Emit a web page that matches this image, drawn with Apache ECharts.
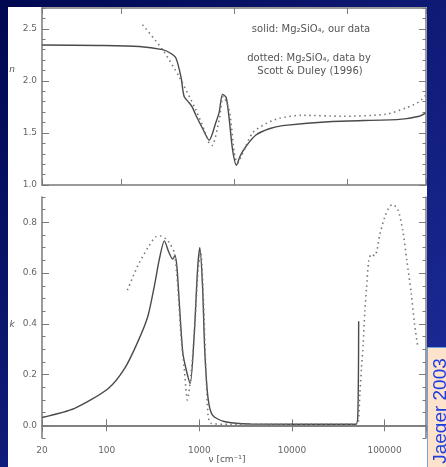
<!DOCTYPE html>
<html>
<head>
<meta charset="utf-8" />
<script src="https://cdn.jsdelivr.net/npm/echarts@6/dist/echarts.min.js"></script>
<style>
  html, body { margin: 0; padding: 0; background: #000a5a; }
  #chart { width: 446px; height: 467px; }
</style>
</head>
<body>
<div id="chart"></div>
<script>
// refractive index n, our data (solid)
var nSolidWave = [20, 64, 145, 233, 270, 306, 339, 362, 401, 426, 460, 523, 603, 691, 740, 791, 853, 908, 971, 1052, 1135, 1275, 1563, 2050, 2690, 7420, 29000, 43600, 49400];
var nSolidVal  = [2.345, 2.34, 2.33, 2.30, 2.27, 2.22, 2.04, 1.85, 1.79, 1.75, 1.67, 1.55, 1.43, 1.60, 1.70, 1.87, 1.84, 1.63, 1.34, 1.19, 1.28, 1.37, 1.48, 1.54, 1.57, 1.61, 1.63, 1.66, 1.69];
// n, Scott & Duley (dotted)
var nDotWave = [155, 233, 327, 460, 545, 603, 640, 740, 802, 908, 1005, 1075, 1189, 1458, 1916, 2510, 4020, 9080, 22100, 33300, 43600, 49400];
var nDotVal  = [2.54, 2.30, 2.04, 1.72, 1.53, 1.40, 1.38, 1.63, 1.85, 1.72, 1.31, 1.21, 1.30, 1.50, 1.59, 1.64, 1.67, 1.66, 1.68, 1.74, 1.80, 1.86];

// absorption index k, our data (solid)
var kSolidWave = [20, 45, 104, 156, 217, 278, 327, 370, 419, 471, 516, 546, 574, 607, 661, 716, 796, 879, 957, 1012, 1082, 1145, 1242, 1386, 1846, 3570, 49000, 51500, 52500];
var kSolidVal  = [0.031, 0.067, 0.145, 0.224, 0.33, 0.43, 0.55, 0.655, 0.727, 0.68, 0.655, 0.67, 0.62, 0.485, 0.29, 0.224, 0.165, 0.354, 0.616, 0.70, 0.55, 0.29, 0.106, 0.04, 0.015, 0.005, 0.004, 0.05, 0.41];
// k, Scott & Duley (dotted)
var kDotWave = [167, 217, 278, 341, 386, 437, 475, 537, 584, 633, 687, 743, 811, 879, 971, 1037, 1109, 1175, 1242, 1327, 2180, 49000, 51900, 54100, 56400, 58700, 61200, 63800, 67500, 72100, 78300, 82800, 88500, 100200, 113400, 123000, 139300, 157500, 173900, 194000, 210500, 228200];
var kDotVal  = [0.533, 0.63, 0.70, 0.744, 0.746, 0.735, 0.72, 0.68, 0.55, 0.354, 0.224, 0.10, 0.197, 0.354, 0.616, 0.68, 0.485, 0.224, 0.04, 0.008, 0.004, 0.004, 0.008, 0.125, 0.23, 0.32, 0.45, 0.54, 0.65, 0.675, 0.668, 0.69, 0.75, 0.82, 0.864, 0.87, 0.85, 0.766, 0.65, 0.52, 0.40, 0.31];

// tick labels
var nTicks = [1.0, 1.5, 2.0, 2.5];
var kTicks = [0.0, 0.2, 0.4, 0.6, 0.8];
var waveLabels = [20, 100, 1000, 10000, 100000];

function pairs(xs, ys) {
  return xs.map(function (x, i) { return [x, ys[i]]; });
}

var frameColor = '#7a7a7a';
var labelStyle = { color: '#666', fontSize: 9, fontFamily: 'DejaVu Sans' };

function xAxis(grid, max, pos, labels) {
  return {
    type: 'log', logBase: 10, gridIndex: grid, min: 20, max: max, position: pos,
    axisLine: { show: true, lineStyle: { color: frameColor, width: 1.5 } },
    axisTick: { show: true, inside: true, length: 6, lineStyle: { color: frameColor } },
    axisLabel: labels ? Object.assign({
      margin: 8,
      showMaxLabel: false,
      formatter: function (v) {
        var r = Math.round(v);
        return waveLabels.indexOf(r) >= 0 ? String(r) : '';
      }
    }, labelStyle) : { show: false },
    splitLine: { show: false }, minorTick: { show: false }
  };
}

function yMajor(grid, min, max, ticks, pos, labels) {
  return {
    type: 'value', gridIndex: grid, min: min, max: max, position: pos,
    axisLine: { show: true, lineStyle: { color: frameColor, width: 1.5 } },
    axisTick: { show: true, inside: true, length: 7, customValues: ticks, lineStyle: { color: frameColor } },
    axisLabel: labels ? Object.assign({
      customValues: ticks, margin: 5,
      formatter: function (v) { return v.toFixed(1); }
    }, labelStyle) : { show: false },
    splitLine: { show: false }
  };
}

function yMinor(grid, min, max, step, pos) {
  return {
    type: 'value', gridIndex: grid, min: min, max: max, interval: step, position: pos,
    axisLine: { show: false },
    axisTick: { show: true, inside: true, length: 3.5, lineStyle: { color: frameColor } },
    axisLabel: { show: false },
    splitLine: { show: false }
  };
}

var chart = echarts.init(document.getElementById('chart'), null, { renderer: 'canvas' });

var smallText = { fill: '#555', font: '10px "DejaVu Sans"', textAlign: 'center', textVerticalAlign: 'middle' };
var solidStyle = { color: '#4a4a4a', width: 1.4 };
var dotStyle = { color: '#777', width: 1.6, type: [1.5, 3.5] };

var option = {
  animation: false,
  grid: [
    { left: 42, right: 20, top: 8, height: 177 },
    { left: 42, right: 20, top: 197, height: 241 }
  ],
  xAxis: [
    xAxis(0, 50000, 'bottom', false),
    xAxis(0, 50000, 'top', false),
    xAxis(1, 280000, 'bottom', true),
    xAxis(1, 280000, 'top', false)
  ],
  yAxis: [
    yMajor(0, 1.0, 2.7, nTicks, 'left', true),
    yMinor(0, 1.0, 2.7, 0.1, 'left'),
    yMajor(0, 1.0, 2.7, nTicks, 'right', false),
    yMinor(0, 1.0, 2.7, 0.1, 'right'),
    yMajor(1, -0.05, 0.9, kTicks, 'left', true),
    yMinor(1, -0.05, 0.9, 0.05, 'left'),
    yMajor(1, -0.05, 0.9, kTicks, 'right', false),
    yMinor(1, -0.05, 0.9, 0.05, 'right')
  ],
  series: [
    { type: 'line', xAxisIndex: 0, yAxisIndex: 0, data: pairs(nSolidWave, nSolidVal), showSymbol: false, smooth: 0.25, lineStyle: solidStyle },
    { type: 'line', xAxisIndex: 0, yAxisIndex: 0, data: pairs(nDotWave, nDotVal), showSymbol: false, smooth: 0.25, lineStyle: dotStyle },
    { type: 'line', xAxisIndex: 2, yAxisIndex: 4, data: pairs(kSolidWave, kSolidVal), showSymbol: false, smooth: 0.25, lineStyle: solidStyle },
    { type: 'line', xAxisIndex: 2, yAxisIndex: 4, data: pairs(kDotWave, kDotVal), showSymbol: false, smooth: 0.25, lineStyle: dotStyle }
  ],
  graphic: [
    {
      type: 'rect', z: -20, shape: { x: 0, y: 0, width: 446, height: 467 },
      style: { fill: new echarts.graphic.LinearGradient(0, 0, 1, 1, [
        { offset: 0, color: '#000850' }, { offset: 1, color: '#1e2e9e' }
      ]) }
    },
    { type: 'rect', z: -19, shape: { x: 8, y: 7, width: 419, height: 460 }, style: { fill: '#fff' } },
    { type: 'text', x: 311, y: 29, style: Object.assign({ text: 'solid: Mg₂SiO₄, our data' }, smallText) },
    { type: 'text', x: 309, y: 58, style: Object.assign({ text: 'dotted: Mg₂SiO₄, data by' }, smallText) },
    { type: 'text', x: 310, y: 71, style: Object.assign({ text: 'Scott & Duley (1996)' }, smallText) },
    { type: 'text', x: 12, y: 70, style: Object.assign({ text: 'n' }, smallText, { font: 'italic 9px "DejaVu Sans"' }) },
    { type: 'text', x: 12, y: 325, style: Object.assign({ text: 'k' }, smallText, { font: 'italic 9px "DejaVu Sans"' }) },
    { type: 'text', x: 227, y: 460, style: Object.assign({ text: 'ν [cm⁻¹]' }, smallText, { font: '9px "DejaVu Sans"' }) },
    {
      type: 'rect', z: 10, shape: { x: 427.5, y: 347.5, width: 30, height: 130 },
      style: { fill: '#fde2cc', stroke: '#6fa2e2', lineWidth: 1 }
    },
    {
      type: 'text', z: 11, x: 441, y: 411, rotation: Math.PI / 2,
      style: { text: 'Jaeger 2003', fill: '#1f3ee0', font: '19px "Liberation Sans"', textAlign: 'center', textVerticalAlign: 'middle' }
    }
  ]
};

chart.setOption(option);
</script>
</body>
</html>
